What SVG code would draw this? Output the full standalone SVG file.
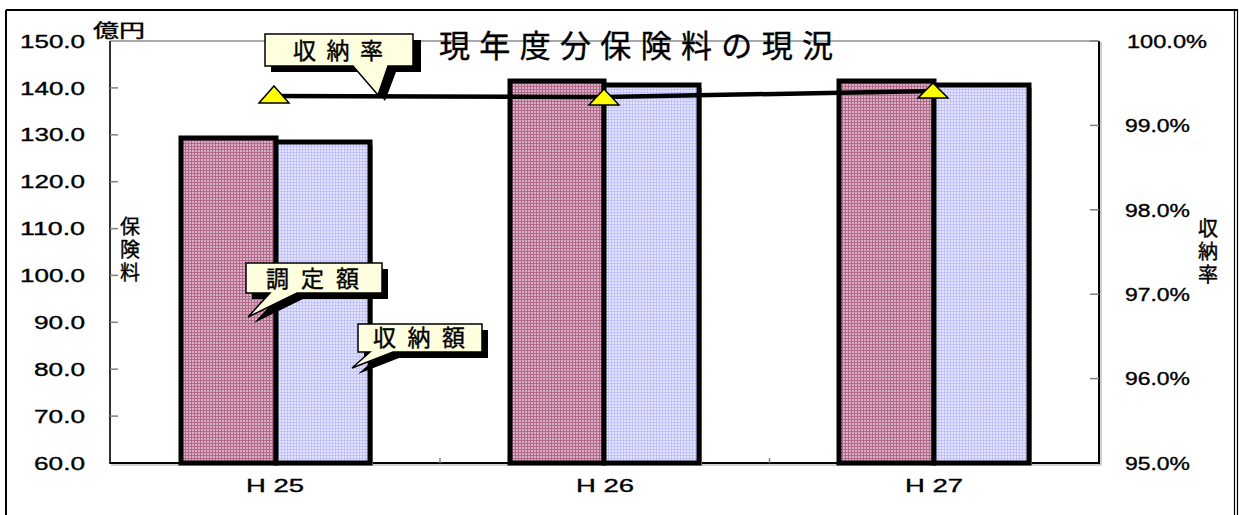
<svg xmlns="http://www.w3.org/2000/svg" width="1239" height="515" viewBox="0 0 1239 515">
<style>
.num{font-family:"Liberation Sans","Noto Sans",sans-serif;font-size:18px;fill:#000;stroke:#000;stroke-width:0.35}
.jp{font-family:"Liberation Sans","Noto Sans CJK JP",sans-serif;fill:#000;stroke:#000;stroke-width:0.4}
.bar{stroke:#000;stroke-width:5}
.shadow{fill:#9a9a9a}
.callout{fill:#ffffe0;stroke:#000;stroke-width:1.5}
.cshadow{fill:#000}
.tick{stroke:#808080;stroke-width:1.5}
.marker{fill:#ffff00;stroke:#000;stroke-width:1.5}
</style>
<defs>
<pattern id="pRed" width="3" height="3" patternUnits="userSpaceOnUse">
<rect width="3" height="3" fill="#b06a8c"/>
<rect width="2" height="2" fill="#dcaec4"/>
</pattern>
<pattern id="pBlue" width="3" height="3" patternUnits="userSpaceOnUse">
<rect width="3" height="3" fill="#c2c2fa"/>
<rect width="2" height="2" fill="#e4e4ff"/>
</pattern>
</defs>
<rect width="1239" height="515" fill="#fff"/>
<g id="frame">
<line x1="6" y1="10" x2="6" y2="515" stroke="#000" stroke-width="2"/>
<line x1="6" y1="10" x2="1238" y2="10" stroke="#000" stroke-width="2"/>
<line x1="1234.5" y1="10" x2="1234.5" y2="515" stroke="#000" stroke-width="1.2"/>
<line x1="1237.5" y1="10" x2="1237.5" y2="515" stroke="#000" stroke-width="1.2"/>
</g>
<g id="axes">
<line x1="110" y1="41" x2="1099" y2="41" stroke="#8c8c8c" stroke-width="1.5"/>
<line x1="110" y1="41" x2="110" y2="464" stroke="#303030" stroke-width="2"/>
<line x1="110" y1="463" x2="1100" y2="463" stroke="#000" stroke-width="2"/>
<line x1="1099" y1="41" x2="1099" y2="464" stroke="#000" stroke-width="2"/>
<line x1="111" y1="465" x2="1101" y2="465" stroke="#a0a0a0" stroke-width="1"/>
<line x1="1101" y1="42" x2="1101" y2="465" stroke="#a0a0a0" stroke-width="1"/>
<g class="tick">
<line x1="110" y1="87.9" x2="118" y2="87.9"/>
<line x1="110" y1="134.8" x2="118" y2="134.8"/>
<line x1="110" y1="181.7" x2="118" y2="181.7"/>
<line x1="110" y1="228.6" x2="118" y2="228.6"/>
<line x1="110" y1="275.4" x2="118" y2="275.4"/>
<line x1="110" y1="322.3" x2="118" y2="322.3"/>
<line x1="110" y1="369.2" x2="118" y2="369.2"/>
<line x1="110" y1="416.1" x2="118" y2="416.1"/>
<line x1="1090" y1="41" x2="1099" y2="41"/>
<line x1="1090" y1="125.4" x2="1099" y2="125.4"/>
<line x1="1090" y1="209.8" x2="1099" y2="209.8"/>
<line x1="1090" y1="294.2" x2="1099" y2="294.2"/>
<line x1="1090" y1="378.6" x2="1099" y2="378.6"/>
<line x1="440" y1="458" x2="440" y2="463"/>
<line x1="769.5" y1="458" x2="769.5" y2="463"/>
</g>
</g>
<g id="left-axis-labels" class="num" text-anchor="end">
<text x="85" y="48" textLength="65" lengthAdjust="spacingAndGlyphs">150.0</text>
<text x="85" y="94.5" textLength="65" lengthAdjust="spacingAndGlyphs">140.0</text>
<text x="85" y="141.3" textLength="65" lengthAdjust="spacingAndGlyphs">130.0</text>
<text x="85" y="188.2" textLength="65" lengthAdjust="spacingAndGlyphs">120.0</text>
<text x="85" y="235.1" textLength="65" lengthAdjust="spacingAndGlyphs">110.0</text>
<text x="85" y="282" textLength="65" lengthAdjust="spacingAndGlyphs">100.0</text>
<text x="85" y="328.8" textLength="51" lengthAdjust="spacingAndGlyphs">90.0</text>
<text x="85" y="375.7" textLength="51" lengthAdjust="spacingAndGlyphs">80.0</text>
<text x="85" y="422.6" textLength="51" lengthAdjust="spacingAndGlyphs">70.0</text>
<text x="85" y="469.5" textLength="51" lengthAdjust="spacingAndGlyphs">60.0</text>
</g>
<g id="right-axis-labels" class="num">
<text x="1127" y="48" textLength="80" lengthAdjust="spacingAndGlyphs">100.0%</text>
<text x="1125" y="132" textLength="65" lengthAdjust="spacingAndGlyphs">99.0%</text>
<text x="1125" y="216.5" textLength="65" lengthAdjust="spacingAndGlyphs">98.0%</text>
<text x="1125" y="301" textLength="65" lengthAdjust="spacingAndGlyphs">97.0%</text>
<text x="1125" y="385" textLength="65" lengthAdjust="spacingAndGlyphs">96.0%</text>
<text x="1125" y="469.5" textLength="65" lengthAdjust="spacingAndGlyphs">95.0%</text>
</g>
<g id="category-labels" class="num" text-anchor="middle" font-size="17">
<text x="275" y="492" textLength="58" lengthAdjust="spacingAndGlyphs">H 25</text>
<text x="605" y="492" textLength="58" lengthAdjust="spacingAndGlyphs">H 26</text>
<text x="934" y="492" textLength="58" lengthAdjust="spacingAndGlyphs">H 27</text>
</g>
<g id="axis-titles" class="jp">
<text x="93" y="37" font-size="18" textLength="52" lengthAdjust="spacingAndGlyphs">億円</text>
<text x="120" y="234" font-size="20">保</text>
<text x="120" y="257" font-size="20">険</text>
<text x="120" y="280" font-size="20">料</text>
<text x="1198" y="236" font-size="20">収</text>
<text x="1198" y="259" font-size="20">納</text>
<text x="1198" y="282" font-size="20">率</text>
</g>
<g id="title" class="jp">
<text x="439" y="57" font-size="31" textLength="394" lengthAdjust="spacing">現年度分保険料の現況</text>
</g>
<g id="bars">
<rect class="shadow" x="184" y="141" width="95" height="324"/>
<rect class="shadow" x="279" y="145" width="94" height="320"/>
<rect class="bar" x="181" y="138" width="95" height="325" fill="url(#pRed)"/>
<rect class="bar" x="276" y="142" width="94" height="321" fill="url(#pBlue)"/>
<rect class="shadow" x="513" y="84" width="94" height="381"/>
<rect class="shadow" x="607" y="88" width="95" height="377"/>
<rect class="bar" x="510" y="81" width="94" height="382" fill="url(#pRed)"/>
<rect class="bar" x="604" y="85" width="95" height="378" fill="url(#pBlue)"/>
<rect class="shadow" x="842" y="84" width="95" height="381"/>
<rect class="shadow" x="937" y="88" width="95" height="377"/>
<rect class="bar" x="839" y="81" width="95" height="382" fill="url(#pRed)"/>
<rect class="bar" x="934" y="85" width="95" height="378" fill="url(#pBlue)"/>
</g>
<g id="connectors">
<polyline points="274,96 604,97 934,91" fill="none" stroke="#000" stroke-width="4.5"/>
</g>
<g id="markers">
<polygon class="marker" points="274,86 289,103 259,103"/>
<polygon class="marker" points="604,89 619,105 589,105"/>
<polygon class="marker" points="933,83 948,98 918,98"/>
</g>
<g id="callout-rate">
<polygon class="cshadow" points="271,40 421,40 421,72 396,72 385,101 361,72 271,72"/>
<polygon class="callout" points="265,34 413,34 413,66 388,66 378,95 353,66 265,66"/>
<text class="jp" x="293" y="59" font-size="23" textLength="90" lengthAdjust="spacing">収納率</text>
</g>
<g id="callout-assessed">
<polygon class="cshadow" points="252,269 388,269 388,299 303,299 254,323 276,299 252,299"/>
<polygon class="callout" points="246,263 382,263 382,293 297,293 248,317 270,293 246,293"/>
<text class="jp" x="266" y="287" font-size="23" textLength="93" lengthAdjust="spacing">調定額</text>
</g>
<g id="callout-collected">
<polygon class="cshadow" points="364,330 488,330 488,358 399,358 358,374 376,358 364,358"/>
<polygon class="callout" points="358,324 482,324 482,352 393,352 352,368 370,352 358,352"/>
<text class="jp" x="373" y="346" font-size="23" textLength="92" lengthAdjust="spacing">収納額</text>
</g>
</svg>
